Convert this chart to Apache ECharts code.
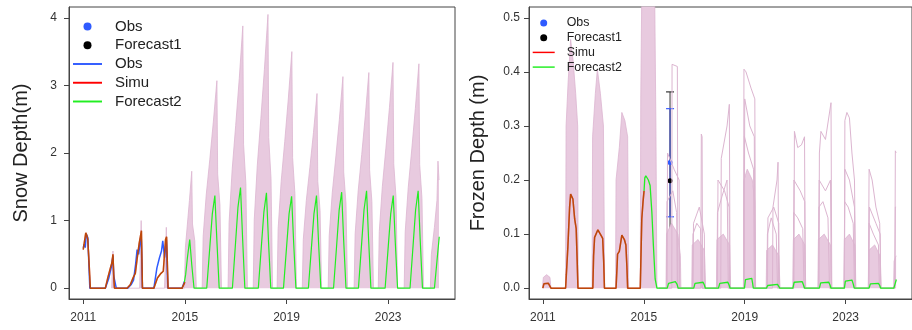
<!DOCTYPE html>
<html><head><meta charset="utf-8">
<script src="https://cdn.jsdelivr.net/npm/echarts@6/dist/echarts.min.js"></script>
<style>html,body{margin:0;padding:0;background:#fff}#c{width:912px;height:330px}</style>
</head><body><div id="c"></div>
<script>
// ---------- ticks ----------
const xTickYears = [2011, 2015, 2019, 2023];
const snowYTicks = [0, 1, 2, 3, 4];
const frozenYTicks = [0, 0.1, 0.2, 0.3, 0.4, 0.5];

// ---------- Snow depth panel: [year, value(m)] ----------
const snowObsLine = [[2011.0,0.6],[2011.04,0.65],[2011.08,0.6],[2011.12,0.8],[2011.18,0.75],[2011.26,0],[2011.87,0],[2012.0,0.14],[2012.1,0.3],[2012.17,0.48],[2012.2,0.18],[2012.27,0.2],[2012.3,0],[2012.75,0],[2012.88,0.05],[2012.98,0.12],[2013.06,0.35],[2013.12,0.57],[2013.18,0.5],[2013.28,0.8],[2013.33,0],[2013.78,0],[2013.9,0.3],[2014.0,0.45],[2014.08,0.55],[2014.13,0.7],[2014.2,0.45],[2014.27,0.72],[2014.33,0],[2014.89,0],[2014.98,0.1]];
const snowSimu = [[2011.0,0.57],[2011.06,0.57],[2011.1,0.82],[2011.14,0.78],[2011.18,0.72],[2011.24,0.3],[2011.28,0],[2011.87,0],[2011.97,0.16],[2012.07,0.3],[2012.13,0.38],[2012.17,0.5],[2012.21,0.1],[2012.23,0],[2012.72,0],[2012.85,0.05],[2012.97,0.16],[2013.05,0.22],[2013.12,0.43],[2013.2,0.66],[2013.29,0.85],[2013.33,0],[2013.78,0],[2013.92,0.15],[2014.06,0.22],[2014.15,0.25],[2014.24,0.72],[2014.28,0.76],[2014.34,0],[2014.89,0],[2015.0,0.09]];
const snowForecast2 = [[2014.98,0.09],[2015.03,0.2],[2015.1,0.45],[2015.19,0.72],[2015.27,0.35],[2015.36,0],
 [2015.86,0],[2015.98,0.6],[2016.08,1.1],[2016.18,1.37],[2016.26,0.7],[2016.35,0],
 [2016.87,0],[2016.99,0.65],[2017.09,1.2],[2017.19,1.49],[2017.27,0.75],[2017.36,0],
 [2017.89,0],[2018.01,0.62],[2018.11,1.13],[2018.21,1.41],[2018.29,0.7],[2018.38,0],
 [2018.88,0],[2019.0,0.6],[2019.1,1.1],[2019.2,1.36],[2019.28,0.68],[2019.37,0],
 [2019.86,0],[2019.98,0.6],[2020.08,1.1],[2020.18,1.37],[2020.26,0.68],[2020.35,0],
 [2020.85,0],[2020.97,0.62],[2021.07,1.15],[2021.17,1.42],[2021.25,0.7],[2021.34,0],
 [2021.83,0],[2021.95,0.63],[2022.05,1.16],[2022.15,1.44],[2022.23,0.72],[2022.32,0],
 [2022.88,0],[2023.0,0.6],[2023.1,1.1],[2023.2,1.37],[2023.28,0.68],[2023.37,0],
 [2023.86,0],[2023.98,0.63],[2024.08,1.16],[2024.18,1.44],[2024.26,0.72],[2024.35,0],
 [2024.82,0],[2024.92,0.4],[2025.01,0.76]];
const snowEnsembleMax = [[2012.12,0],[2012.17,0.55],[2012.22,0],[2013.22,0],[2013.28,1.0],[2013.33,0],[2014.2,0],[2014.27,0.9],[2014.32,0],
 [2014.98,0],[2015.02,0.6],[2015.1,0.95],[2015.18,1.3],[2015.27,1.73],[2015.3,0.95],[2015.39,0.7],[2015.45,0],
 [2015.68,0],[2015.72,0.77],[2015.84,1.38],[2015.98,1.9],[2016.12,2.46],[2016.26,3.07],[2016.29,1.69],[2016.38,1.23],[2016.44,0],
 [2016.7,0],[2016.74,0.97],[2016.86,1.75],[2017.0,2.41],[2017.14,3.1],[2017.28,3.88],[2017.31,2.13],[2017.4,1.55],[2017.46,0],
 [2017.69,0],[2017.73,1.01],[2017.85,1.82],[2017.99,2.51],[2018.13,3.24],[2018.27,4.05],[2018.3,2.23],[2018.39,1.62],[2018.45,0],
 [2018.63,0],[2018.67,0.88],[2018.79,1.58],[2018.93,2.17],[2019.07,2.8],[2019.21,3.5],[2019.24,1.93],[2019.33,1.4],[2019.39,0],
 [2019.62,0],[2019.66,0.72],[2019.78,1.3],[2019.92,1.79],[2020.06,2.3],[2020.2,2.88],[2020.23,1.58],[2020.32,1.15],[2020.38,0],
 [2020.64,0],[2020.68,0.78],[2020.8,1.41],[2020.94,1.94],[2021.08,2.5],[2021.22,3.13],[2021.25,1.72],[2021.34,1.25],[2021.4,0],
 [2021.66,0],[2021.7,0.8],[2021.82,1.44],[2021.96,1.98],[2022.1,2.55],[2022.24,3.19],[2022.27,1.75],[2022.36,1.28],[2022.42,0],
 [2022.61,0],[2022.65,0.84],[2022.77,1.5],[2022.91,2.07],[2023.05,2.67],[2023.19,3.34],[2023.22,1.84],[2023.31,1.34],[2023.37,0],
 [2023.63,0],[2023.67,0.83],[2023.79,1.49],[2023.93,2.06],[2024.07,2.66],[2024.21,3.32],[2024.24,1.83],[2024.33,1.33],[2024.39,0],
 [2024.66,0],[2024.7,0.5],[2024.82,0.9],[2024.92,1.3],[2024.96,1.88],[2025.0,1.6]];
const snowObsPoints = [[2016.0,0.34]];
const snowObsBar = [[2016.0,0.3,0.37]];
const snowForecast1Points = [[2016.0,0.225]];
const snowForecast1Bar = [[2016.0,0.205,0.245]];

// ---------- Frozen depth panel: [year, value(m)] ----------
const frozenSimu = [[2011.0,0],[2011.04,0.008],[2011.1,0.01],[2011.22,0.009],[2011.28,0.008],[2011.32,0],[2011.9,0],[2011.93,0.025],[2011.99,0.076],[2012.06,0.15],[2012.1,0.174],[2012.13,0.176],[2012.19,0.165],[2012.26,0.128],[2012.32,0.11],[2012.36,0.05],[2012.39,0],[2012.98,0],[2013.01,0.06],[2013.05,0.094],[2013.18,0.108],[2013.31,0.097],[2013.37,0.092],[2013.41,0.05],[2013.44,0],[2013.9,0],[2013.94,0.04],[2013.96,0.063],[2014.03,0.068],[2014.13,0.098],[2014.23,0.09],[2014.29,0.08],[2014.33,0.04],[2014.36,0],[2014.86,0],[2014.92,0.128],[2014.97,0.16],[2015.01,0.18]];
const frozenForecast2 = [[2015.01,0.18],[2015.04,0.204],[2015.08,0.208],[2015.18,0.2],[2015.25,0.19],[2015.32,0.14],[2015.38,0.079],[2015.45,0.017],[2015.52,0],
 [2015.93,0],[2015.98,0.009],[2016.05,0.012],[2016.25,0.012],[2016.32,0.007],[2016.36,0],
 [2016.98,0],[2017.03,0.009],[2017.1,0.011],[2017.35,0.011],[2017.4,0.006],[2017.44,0],
 [2017.96,0],[2018.01,0.009],[2018.08,0.011],[2018.33,0.011],[2018.38,0.006],[2018.42,0],
 [2018.99,0],[2019.03,0.016],[2019.08,0.018],[2019.28,0.018],[2019.31,0.01],[2019.34,0],
 [2019.86,0],[2019.91,0.005],[2019.98,0.007],[2020.3,0.007],[2020.35,0.004],[2020.39,0],
 [2020.91,0],[2020.96,0.011],[2021.02,0.013],[2021.28,0.012],[2021.33,0.006],[2021.37,0],
 [2021.96,0],[2022.01,0.01],[2022.08,0.012],[2022.33,0.011],[2022.38,0.006],[2022.42,0],
 [2022.95,0],[2022.99,0.013],[2023.05,0.016],[2023.25,0.015],[2023.3,0.008],[2023.34,0],
 [2023.93,0],[2023.98,0.008],[2024.05,0.011],[2024.3,0.009],[2024.35,0.005],[2024.39,0],
 [2024.91,0],[2024.96,0.008],[2025.01,0.016]];
const frozenEnsembleDense = [[2010.98,0],[2011.02,0.02],[2011.15,0.025],[2011.28,0.02],[2011.32,0],
 [2011.9,0],[2011.92,0.3],[2012.0,0.38],[2012.1,0.46],[2012.2,0.42],[2012.3,0.36],[2012.38,0.3],[2012.4,0],
 [2012.95,0],[2012.97,0.28],[2013.08,0.36],[2013.16,0.405],[2013.28,0.36],[2013.4,0.3],[2013.45,0],
 [2013.88,0],[2013.9,0.2],[2014.03,0.26],[2014.13,0.325],[2014.25,0.31],[2014.36,0.28],[2014.4,0],
 [2014.86,0],[2014.88,0.35],[2014.93,0.6],[2015.42,0.6],[2015.48,0.3],[2015.52,0],
 [2015.88,0],[2015.9,0.1],[2016.1,0.12],[2016.35,0.1],[2016.45,0.06],[2016.47,0],
 [2016.9,0],[2016.92,0.08],[2017.15,0.09],[2017.4,0.07],[2017.45,0],
 [2017.88,0],[2017.9,0.09],[2018.15,0.1],[2018.4,0.08],[2018.44,0],
 [2018.95,0],[2018.97,0.2],[2019.1,0.22],[2019.3,0.2],[2019.4,0.16],[2019.43,0],
 [2019.85,0],[2019.87,0.07],[2020.1,0.08],[2020.35,0.06],[2020.4,0],
 [2020.91,0],[2020.93,0.09],[2021.15,0.1],[2021.38,0.08],[2021.42,0],
 [2021.9,0],[2021.92,0.09],[2022.15,0.1],[2022.4,0.08],[2022.45,0],
 [2022.93,0],[2022.95,0.09],[2023.15,0.1],[2023.36,0.08],[2023.4,0],
 [2023.9,0],[2023.92,0.07],[2024.15,0.08],[2024.36,0.06],[2024.4,0],
 [2024.9,0],[2024.92,0.05],[2025.0,0.06]];
const frozenMemberA = [[2015.6,0],[2016.11,0],[2016.12,0.414],[2016.33,0.41],[2016.35,0],
 [2017.26,0],[2017.28,0.285],[2017.31,0.28],[2017.33,0],
 [2018.05,0],[2018.07,0.24],[2018.3,0.3],[2018.39,0.34],[2018.42,0],
 [2018.95,0],[2018.97,0.405],[2019.05,0.4],[2019.25,0.37],[2019.4,0.35],[2019.43,0],
 [2020.1,0],[2020.12,0.15],[2020.28,0.2],[2020.32,0.233],[2020.35,0],
 [2020.95,0],[2020.97,0.29],[2021.1,0.26],[2021.25,0.265],[2021.37,0.28],[2021.4,0],
 [2021.94,0],[2021.96,0.25],[2022.02,0.29],[2022.2,0.275],[2022.42,0.343],[2022.45,0],
 [2022.95,0],[2022.97,0.31],[2023.05,0.325],[2023.15,0.315],[2023.25,0.25],[2023.35,0.2],[2023.4,0],
 [2023.9,0],[2023.93,0.22],[2024.05,0.2],[2024.2,0.15],[2024.35,0.12],[2024.4,0],
 [2024.95,0],[2024.97,0.254],[2025.0,0.25]];
const frozenMemberB = [[2015.6,0],[2015.92,0],[2015.94,0.25],[2016.2,0.22],[2016.4,0.2],[2016.42,0],
 [2016.95,0],[2016.97,0.12],[2017.2,0.15],[2017.4,0.1],[2017.42,0],
 [2017.92,0],[2017.94,0.2],[2018.2,0.18],[2018.38,0.15],[2018.4,0],
 [2018.98,0],[2019.0,0.35],[2019.2,0.3],[2019.38,0.28],[2019.4,0],
 [2019.9,0],[2019.92,0.13],[2020.15,0.15],[2020.35,0.12],[2020.37,0],
 [2020.93,0],[2020.95,0.2],[2021.2,0.18],[2021.38,0.16],[2021.4,0],
 [2021.93,0],[2021.95,0.2],[2022.2,0.18],[2022.4,0.2],[2022.43,0],
 [2022.95,0],[2022.97,0.22],[2023.15,0.2],[2023.35,0.15],[2023.38,0],
 [2023.92,0],[2023.94,0.15],[2024.2,0.12],[2024.37,0.1],[2024.39,0],
 [2024.95,0],[2024.97,0.15],[2025.0,0.15]];
const frozenMemberC = [[2015.6,0],[2015.9,0],[2015.92,0.16],[2016.15,0.18],[2016.3,0.14],[2016.33,0],
 [2016.93,0],[2016.95,0.1],[2017.1,0.12],[2017.25,0.11],[2017.3,0],
 [2017.9,0],[2017.92,0.14],[2018.1,0.17],[2018.3,0.2],[2018.35,0],
 [2018.97,0],[2018.99,0.28],[2019.15,0.25],[2019.35,0.22],[2019.38,0],
 [2019.88,0],[2019.9,0.1],[2020.05,0.13],[2020.25,0.1],[2020.3,0],
 [2020.92,0],[2020.94,0.14],[2021.1,0.13],[2021.3,0.11],[2021.35,0],
 [2021.92,0],[2021.94,0.15],[2022.1,0.16],[2022.3,0.13],[2022.36,0],
 [2022.94,0],[2022.96,0.16],[2023.1,0.15],[2023.3,0.12],[2023.35,0],
 [2023.91,0],[2023.93,0.12],[2024.1,0.1],[2024.3,0.08],[2024.34,0]];
const frozenObsPoints = [[2014.19,0.23],[2014.19,0.02],[2016.04,0.2325]];
const frozenObsBar = [[2016.04,0.132,0.332]];
const frozenForecast1Points = [[2016.04,0.1985]];
const frozenForecast1Bar = [[2016.04,0.033,0.363]];

// ---------- styling ----------
const FONT = 'Liberation Sans, Arial, sans-serif';
const AX = '#444';
const PINK_FILL = '#e8cadf';
const PINK_LINE = '#dcb5d0';
const BLUE = '#2f5bff', RED = '#ff0000', GREEN = '#22ee22', BLACK = '#000';
const LINE_ICON = 'path://M0,0H30V2H0Z';

function xAxisCfg(gi, min, max) {
  return {type:'value', gridIndex:gi, min, max,
    axisLine:{show:true, onZero:false, lineStyle:{color:AX, width:1}},
    axisTick:{show:true, length:5, customValues:xTickYears, lineStyle:{color:AX}},
    axisLabel:{customValues:xTickYears, color:'#333', fontSize:12, margin:13, fontFamily:FONT, formatter:v=>String(v)},
    splitLine:{show:false}};
}
function yAxisCfg(gi, min, max, ticks, fmt, name, gap, margin) {
  return {type:'value', gridIndex:gi, min, max,
    name, nameLocation:'middle', nameGap:gap, nameTextStyle:{fontSize:20, color:'#222', fontFamily:FONT},
    axisLine:{show:true, onZero:false, lineStyle:{color:AX, width:1}},
    axisTick:{show:true, length:5, customValues:ticks, lineStyle:{color:AX}},
    axisLabel:{customValues:ticks, color:'#333', fontSize:12, margin:margin, fontFamily:FONT, formatter:fmt},
    splitLine:{show:false}};
}
function lineS(name, gi, data, color, width, opacity) {
  return {name, type:'line', xAxisIndex:gi, yAxisIndex:gi, data, symbol:'none', showSymbol:false,
    lineStyle:{color, width, opacity: opacity==null?1:opacity}, itemStyle:{color}, silent:true, clip:true};
}
function areaS(name, gi, data) {
  return {name, type:'line', xAxisIndex:gi, yAxisIndex:gi, data, symbol:'none', showSymbol:false,
    lineStyle:{color:PINK_LINE, width:0.8}, areaStyle:{color:PINK_FILL, opacity:1}, itemStyle:{color:PINK_FILL}, silent:true, clip:true};
}
function barS(name, gi, data, color, capHalf, width, opacity, capColor) {
  return {name, type:'custom', xAxisIndex:gi, yAxisIndex:gi, data, silent:true, clip:true,
    encode:{x:0, y:[1,2]},
    renderItem:function(params, api){
      const x = api.value(0);
      const lo = api.coord([x, api.value(1)]), hi = api.coord([x, api.value(2)]);
      const st = {stroke:color, lineWidth:width, opacity:opacity};
      const cs = {stroke:capColor||color, lineWidth:width};
      return {type:'group', children:[
        {type:'line', shape:{x1:lo[0], y1:lo[1], x2:hi[0], y2:hi[1]}, style:st},
        {type:'line', shape:{x1:lo[0]-capHalf, y1:lo[1], x2:lo[0]+capHalf, y2:lo[1]}, style:cs},
        {type:'line', shape:{x1:hi[0]-capHalf, y1:hi[1], x2:hi[0]+capHalf, y2:hi[1]}, style:cs}
      ]};
    }};
}
function scatS(name, gi, data, color, size, symbol) {
  return {name, type:'scatter', xAxisIndex:gi, yAxisIndex:gi, data, symbol:symbol||'circle', symbolSize:size,
    itemStyle:{color, opacity:1}, silent:true, clip:true};
}

const chart = echarts.init(document.getElementById('c'), null, {renderer:'canvas'});
chart.setOption({
  animation:false,
  backgroundColor:'#fff',
  grid:[
    {left:69, top:7, width:386, height:292, show:true, borderColor:AX, borderWidth:1, backgroundColor:'transparent'},
    {left:529, top:7, width:386, height:292, show:true, borderColor:AX, borderWidth:1, backgroundColor:'transparent'}
  ],
  xAxis:[xAxisCfg(0, 2010.44, 2025.63), xAxisCfg(1, 2010.45, 2025.63)],
  yAxis:[
    yAxisCfg(0, -0.16, 4.16, snowYTicks, v=>String(v), 'Snow Depth(m)', 38, 12),
    yAxisCfg(1, -0.02, 0.52, frozenYTicks, v=>v.toFixed(1), 'Frozen Depth (m)', 41, 9)
  ],
  legend:[
    {orient:'vertical', left:73, top:19, padding:0, itemWidth:29, itemHeight:8, itemGap:3.75, selectedMode:false,
     data:[{name:'Obs', icon:'circle'}, {name:'Forecast1', icon:'circle'}, {name:'Obs line', icon:LINE_ICON}, {name:'Simu', icon:LINE_ICON}, {name:'Forecast2', icon:LINE_ICON}],
     formatter:n=> n==='Obs line' ? 'Obs' : n,
     textStyle:{fontSize:15, lineHeight:15, color:'#222', fontFamily:FONT, padding:[0,0,0,8]}},
    {orient:'vertical', left:532.7, top:17, padding:0, itemWidth:22, itemHeight:7, itemGap:2.7, selectedMode:false,
     data:[{name:'Obs', icon:'circle'}, {name:'Forecast1', icon:'circle'}, {name:'Simu', icon:LINE_ICON}, {name:'Forecast2', icon:LINE_ICON}],
     textStyle:{fontSize:12.4, lineHeight:12, color:'#222', fontFamily:FONT, padding:[0,0,0,7]}}
  ],
  series:[
    // snow panel
    areaS('snowEns', 0, snowEnsembleMax),
    lineS('Obs line', 0, snowObsLine, BLUE, 1.5),
    lineS('Simu', 0, snowSimu, RED, 1.5),
    lineS('snowOverlay', 0, snowSimu, GREEN, 1.5, 0.3),
    lineS('Forecast2', 0, snowForecast2, GREEN, 1.2),
    barS('snowF1Bar', 0, snowForecast1Bar, '#222', 2.5, 1, 1),
    barS('snowObsBar', 0, snowObsBar, BLUE, 2.5, 1.5, 1),
    scatS('Obs', 0, snowObsPoints, BLUE, 5),
    scatS('Forecast1', 0, snowForecast1Points, BLACK, 5, 'rect'),
    // frozen panel
    areaS('frozenEns', 1, frozenEnsembleDense),
    lineS('frozenMemA', 1, frozenMemberA, PINK_LINE, 1),
    lineS('frozenMemB', 1, frozenMemberB, PINK_LINE, 1),
    lineS('frozenMemC', 1, frozenMemberC, PINK_LINE, 1),
    lineS('Simu', 1, frozenSimu, RED, 1.5),
    lineS('frozenOverlay', 1, frozenSimu, GREEN, 1.5, 0.3),
    lineS('Forecast2', 1, frozenForecast2, GREEN, 1.3),
    barS('frozenF1Bar', 1, frozenForecast1Bar, '#555', 4, 1.2, 1, '#333'),
    barS('frozenObsBar', 1, frozenObsBar, '#2233cc', 4, 1.2, 0.75, '#3a5cff'),
    scatS('Obs', 1, frozenObsPoints, BLUE, 5),
    scatS('Forecast1', 1, frozenForecast1Points, BLACK, 5)
  ]
});
</script></body></html>
